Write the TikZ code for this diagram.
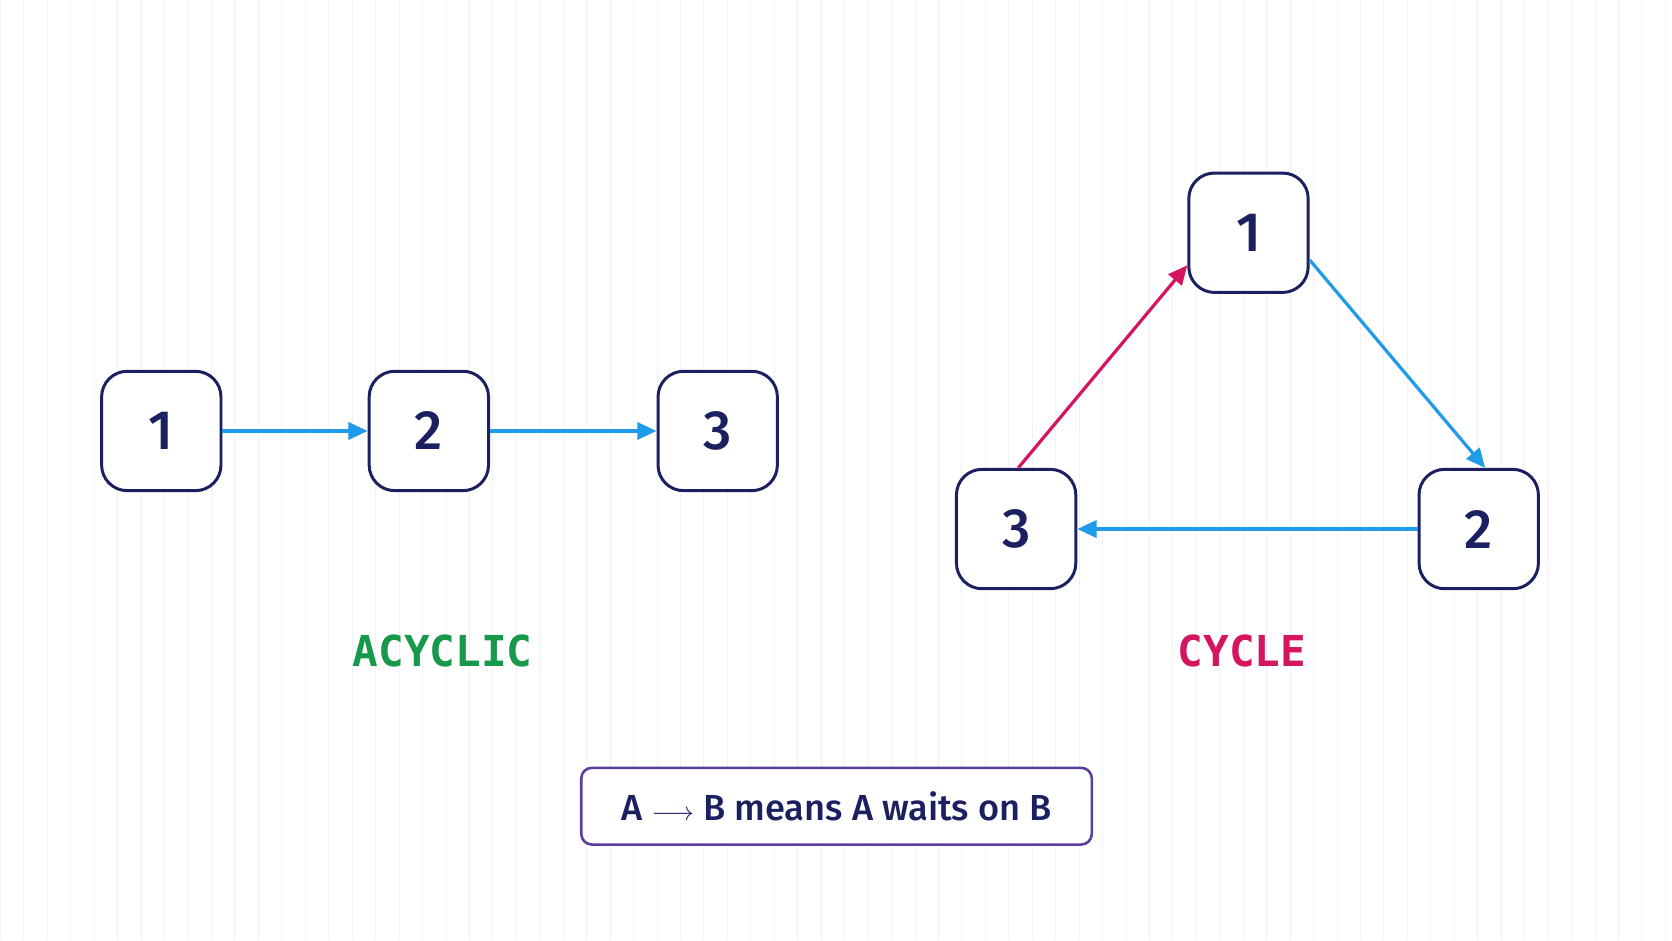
\documentclass[tikz,border=0pt]{standalone}
\usepackage{fontspec}
\setmainfont{Fira Sans}
\newfontfamily\numf{Fira Sans Medium}
\newfontfamily\monof{DejaVu Sans Mono}
\usetikzlibrary{arrows.meta}
\definecolor{navy}{HTML}{1B2160}
\definecolor{eblue}{HTML}{1E9BE9}
\definecolor{emag}{HTML}{D4155F}
\definecolor{egreen}{HTML}{16994A}
\definecolor{epurp}{HTML}{5A3D9E}
\begin{document}
\begin{tikzpicture}[x=1pt,y=-1pt,
 box/.style={draw=navy,line width=2.8pt,rounded corners=24pt,minimum width=112pt,minimum height=112pt,fill=white,text=navy,font=\numf\fontsize{52}{52}\selectfont},
 edge/.style={line width=3pt,-{Triangle[length=18pt,width=16pt]}},
 lab/.style={font=\monof\bfseries\fontsize{40}{40}\selectfont}]
\fill[white] (0,0) rectangle (1568,882);
\draw[black!5,line width=0.7pt] (0,0) grid[step=22] (1568,882);
\useasboundingbox (0,0) rectangle (1568,882);
\node[box] (a1) at (151,404) {1};
\node[box] (a2) at (402,404) {2};
\node[box] (a3) at (673,404) {3};
\draw[edge,eblue] (a1) -- (a2);
\draw[edge,eblue] (a2) -- (a3);
\node[box] (r1) at (1171,218) {1};
\node[box] (r2) at (1387,496) {2};
\node[box] (r3) at (953,496) {3};
\draw[edge,eblue] (r1.-24) -- (r2.84);
\draw[edge,eblue] (r2) -- (r3);
\draw[edge,emag] (r3.88) -- (r1.208);
\node[lab,text=egreen] (acy) at (415,610) {ACYCLIC};
\node[lab,text=emag] (cyc) at (1165,610) {CYCLE};
\node[draw=epurp,line width=2.4pt,rounded corners=10pt,minimum width=479pt,minimum height=72pt,fill=white,text=navy,font=\numf\fontsize{34}{34}\selectfont] (leg) at (784.5,756) {A $\longrightarrow$ B means A waits on B};
\end{tikzpicture}
\end{document}
